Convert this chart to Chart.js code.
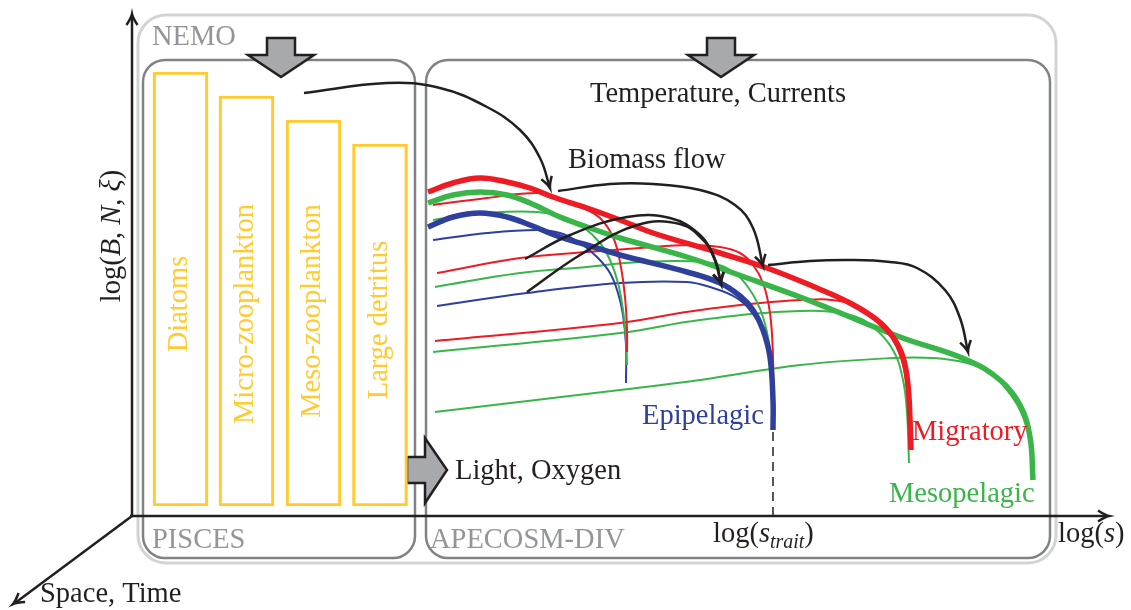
<!DOCTYPE html>
<html><head><meta charset="utf-8">
<script src="https://cdn.jsdelivr.net/npm/chart.js@4.4.1/dist/chart.umd.min.js"></script>
<style>html,body{margin:0;padding:0;background:#fff;overflow:hidden}#wrap{width:1131px;height:610px;position:relative}</style>
</head><body><div id="wrap"><canvas id="c"></canvas></div>
<script>
// ---- Diagram data (diagram units: x = log(s) position, y = log(B,N,xi) position, top-down) ----
// PISCES plankton compartments (bars)
const barLabels = ['Diatoms', 'Micro-zooplankton', 'Meso-zooplankton', 'Large detritus'];
const barCenters = [180.5, 246.5, 313.5, 380];
const barTops = [72, 96, 120, 144];
const barBase = 506;
const barLabelMid = [304, 314, 311, 320];

// APECOSM-DIV size spectra: thick = community totals
const migratoryTotal = [[428,192],[453,183],[480,178],[507,182],[530,188],[553,197],[587,208],[620,220],[653,233],[720,253],[767,268],[817,288],[850,303],[877,320],[893,337],[903,357],[908,385],[910,420],[911,450]];
const mesopelagicTotal = [[428,203],[453,195],[480,192],[507,195],[530,203],[560,217],[587,227],[620,238],[687,257],[753,280],[800,297],[833,310],[900,337],[967,360],[1000,380],[1020,405],[1030,437],[1033,480]];
const epipelagicTotal = [[428,227],[453,217],[480,213],[507,217],[530,225],[560,237],[587,245],[620,255],[687,272],[720,283],[740,296],[753,310],[763,330],[770,357],[773,400],[773,430]];
// thin = trait classes
const migratoryTrait1 = [[433,205],[487,198],[537,193],[560,198],[583,208],[600,218],[613,237],[620,262],[625,297],[627,330],[627,352]];
const mesopelagicTrait1 = [[433,220],[470,215],[503,212],[537,212],[563,217],[583,227],[600,243],[610,260],[618,283],[623,310],[626,340],[627,365]];
const epipelagicTrait1 = [[433,240],[487,233],[537,230],[560,233],[580,243],[597,257],[610,273],[618,293],[623,315],[626,345],[626,383]];
const migratoryTrait2 = [[437,273],[520,258],[587,252],[640,248],[690,245],[720,247],[740,253],[753,265],[763,283],[770,313],[773,357],[773,400]];
const mesopelagicTrait2 = [[435,287],[520,273],[587,267],[640,262],[703,262],[730,270],[750,290],[763,317],[770,350],[772,380]];
const epipelagicTrait2 = [[437,306],[527,293],[620,283],[687,282],[713,288],[735,297],[750,310],[762,330],[769,357],[772,400],[773,430]];
const migratoryTrait3 = [[435,341],[620,323],[700,310],[800,300],[850,303],[877,320],[893,340],[903,365],[908,400],[910,440]];
const mesopelagicTrait3 = [[433,352],[620,333],[700,320],[800,311],[850,315],[873,327],[893,350],[903,380],[907,413],[909,463]];
const mesopelagicTrait4 = [[435,412],[620,390],[700,380],[800,365],[893,358],[933,358],[967,363],[990,373],[1007,390],[1020,410],[1030,440],[1033,480]];

// Biomass flow arrows
const flowFromPisces = [[304,93],[387,83],[440,88],[487,107],[520,130],[540,158],[550,188]];
const flowStep1 = [[558,191],[610,184],[653,184],[700,190],[735,205],[753,228],[763,266]];
const flowStep2 = [[768,265],[810,261],[850,260],[890,262],[917,268],[945,290],[960,318],[968,352]];
const flowSmall1 = [[525,259],[570,235],[627,217],[670,218],[700,235],[714,258],[721,284]];
const flowSmall2 = [[527,292],[580,255],[637,225],[680,224],[705,242],[716,262],[721,284]];

const sTrait = 773;

const RED = '#ed1c24', GREEN = '#39b54a', BLUE = '#2e3f9c', YEL = '#ffcb2f', INK = '#231f20';
const GREY_T = '#939598', BOX = '#808285', OUTER = '#d1d3d4';
const FONT = '"Liberation Serif", "Times New Roman", serif';
const FS = 28.5;

const pts = a => a.map(([x, y]) => ({x, y}));
const curve = (a, c, w, order) => ({type:'scatter', data: pts(a), showLine:true, borderColor:c, borderWidth:w, pointRadius:0, tension:0.4, fill:false, order, borderCapStyle:'butt', borderJoinStyle:'round'});
const flowArrows = [flowFromPisces, flowStep1, flowStep2, flowSmall1, flowSmall2];

const datasets = [
  {type:'bar', data: barCenters.map((x, i) => ({x, y:[barBase, barTops[i]]})), backgroundColor:'rgba(0,0,0,0)', borderColor:YEL, borderWidth:2.5, borderSkipped:false, barThickness:55, grouped:false, order:20},
  curve(migratoryTrait1, RED, 2, 10), curve(mesopelagicTrait1, GREEN, 2, 10), curve(epipelagicTrait1, BLUE, 2, 10),
  curve(migratoryTrait2, RED, 2, 10), curve(mesopelagicTrait2, GREEN, 2, 10), curve(epipelagicTrait2, BLUE, 2, 10),
  curve(migratoryTrait3, RED, 2, 10), curve(mesopelagicTrait3, GREEN, 2, 10), curve(mesopelagicTrait4, GREEN, 2, 10),
  curve(epipelagicTotal, BLUE, 5.5, 5), curve(mesopelagicTotal, GREEN, 5.5, 4), curve(migratoryTotal, RED, 5.5, 3),
  ...flowArrows.map(a => curve(a, INK, 2.5, 1))
];

function rich(ctx, parts, x, y, align, color, size) {
  let w = 0;
  const segs = parts.map(p => {
    const s = p.sub ? size * 0.7 : size;
    const f = (p.it ? 'italic ' : '') + s + 'px ' + FONT;
    ctx.font = f; const m = ctx.measureText(p.t).width; w += m;
    return {f, m, dy: p.sub ? size * 0.2 : 0, t: p.t};
  });
  let cx = align === 'center' ? x - w / 2 : align === 'right' ? x - w : x;
  ctx.fillStyle = color; ctx.textAlign = 'left'; ctx.textBaseline = 'alphabetic';
  segs.forEach(s => { ctx.font = s.f; ctx.fillText(s.t, cx, y + s.dy); cx += s.m; });
}
function head(ctx, tx, ty, ang, len, half) {
  const dx = Math.cos(ang), dy = Math.sin(ang), px = -dy, py = dx;
  ctx.beginPath();
  ctx.moveTo(tx - len*dx + half*px, ty - len*dy + half*py);
  ctx.quadraticCurveTo(tx - 0.35*len*dx + 0.15*half*px, ty - 0.35*len*dy + 0.15*half*py, tx, ty);
  ctx.quadraticCurveTo(tx - 0.35*len*dx - 0.15*half*px, ty - 0.35*len*dy - 0.15*half*py, tx - len*dx - half*px, ty - len*dy - half*py);
  ctx.stroke();
}
function rrect(ctx, x0, y0, x1, y1, r) {
  ctx.beginPath(); ctx.roundRect(x0, y0, x1 - x0, y1 - y0, r); ctx.stroke();
}

const diagram = {
  id: 'diagram',
  beforeDatasetsDraw(chart) {
    const {ctx, scales:{x, y}} = chart;
    const X = v => x.getPixelForValue(v), Y = v => y.getPixelForValue(v);
    ctx.save();
    ctx.lineWidth = 3; ctx.strokeStyle = OUTER; rrect(ctx, X(138), Y(15), X(1056), Y(563), 28);
    ctx.lineWidth = 2.5; ctx.strokeStyle = BOX;
    rrect(ctx, X(143), Y(60), X(415), Y(558), 22);
    rrect(ctx, X(426), Y(60), X(1050), Y(558), 22);
    // axes
    ctx.strokeStyle = INK; ctx.lineWidth = 2.5; ctx.lineCap = 'butt';
    ctx.beginPath(); ctx.moveTo(X(132), Y(517)); ctx.lineTo(X(132), Y(16)); ctx.stroke();
    head(ctx, X(132), Y(14), -Math.PI/2, 11, 5.5);
    ctx.beginPath(); ctx.moveTo(X(130), Y(516)); ctx.lineTo(X(1106), Y(516)); ctx.stroke();
    head(ctx, X(1109), Y(516), 0, 11, 5.5);
    const ang = Math.atan2(604 - 516, 13 - 132);
    ctx.beginPath(); ctx.moveTo(X(132), Y(516)); ctx.lineTo(X(15), Y(603)); ctx.stroke();
    head(ctx, X(13), Y(604), ang, 11, 5.5);
    ctx.setLineDash([9, 6]); ctx.lineWidth = 1.5;
    ctx.beginPath(); ctx.moveTo(X(sTrait), Y(432)); ctx.lineTo(X(sTrait), Y(516)); ctx.stroke();
    ctx.setLineDash([]);
    // block arrows
    ctx.fillStyle = '#a7a9ac'; ctx.strokeStyle = INK; ctx.lineWidth = 2.5; ctx.lineJoin = 'miter';
    [281, 721].forEach(cx => {
      ctx.beginPath();
      ctx.moveTo(X(cx-14), Y(38)); ctx.lineTo(X(cx+14), Y(38)); ctx.lineTo(X(cx+14), Y(55));
      ctx.lineTo(X(cx+33), Y(55)); ctx.lineTo(X(cx), Y(77)); ctx.lineTo(X(cx-33), Y(55));
      ctx.lineTo(X(cx-14), Y(55)); ctx.closePath(); ctx.fill(); ctx.stroke();
    });
    ctx.beginPath();
    ctx.moveTo(X(407), Y(457)); ctx.lineTo(X(425), Y(457)); ctx.lineTo(X(425), Y(438));
    ctx.lineTo(X(447), Y(470)); ctx.lineTo(X(425), Y(503)); ctx.lineTo(X(425), Y(483));
    ctx.lineTo(X(407), Y(483)); ctx.closePath(); ctx.fill(); ctx.stroke();
    // box labels
    rich(ctx, [{t:'NEMO'}], X(152), Y(45), 'left', GREY_T, FS);
    rich(ctx, [{t:'PISCES'}], X(152), Y(548), 'left', GREY_T, FS);
    rich(ctx, [{t:'APECOSM-DIV'}], X(430), Y(548), 'left', GREY_T, FS);
    ctx.restore();
  },
  afterDatasetsDraw(chart) {
    const {ctx, scales:{x, y}} = chart;
    const X = v => x.getPixelForValue(v), Y = v => y.getPixelForValue(v);
    ctx.save();
    ctx.strokeStyle = INK; ctx.lineWidth = 2.5;
    flowArrows.forEach(a => {
      const [p, q] = [a[a.length - 2], a[a.length - 1]];
      head(ctx, X(q[0]), Y(q[1]), Math.atan2(Y(q[1]) - Y(p[1]), X(q[0]) - X(p[0])), 11, 5.5);
    });
    // bar labels (rotated)
    barLabels.forEach((t, i) => {
      ctx.save(); ctx.translate(X(barCenters[i] + 6.5), Y(barLabelMid[i])); ctx.rotate(-Math.PI/2);
      rich(ctx, [{t}], 0, 0, 'center', YEL, FS); ctx.restore();
    });
    rich(ctx, [{t:'Temperature, Currents'}], X(590), Y(102), 'left', INK, FS);
    rich(ctx, [{t:'Biomass flow'}], X(568), Y(168), 'left', INK, FS);
    rich(ctx, [{t:'Light, Oxygen'}], X(455), Y(479), 'left', INK, FS);
    rich(ctx, [{t:'Epipelagic'}], X(642), Y(424), 'left', BLUE, FS);
    rich(ctx, [{t:'Migratory'}], X(912), Y(440), 'left', RED, FS);
    rich(ctx, [{t:'Mesopelagic'}], X(889), Y(502), 'left', GREEN, FS);
    rich(ctx, [{t:'log('}, {t:'s', it:true}, {t:'trait', it:true, sub:true}, {t:')'}], X(713), Y(542), 'left', INK, FS);
    rich(ctx, [{t:'log('}, {t:'s', it:true}, {t:')'}], X(1058), Y(542), 'left', INK, FS);
    rich(ctx, [{t:'Space, Time'}], X(40), Y(602), 'left', INK, FS);
    ctx.save(); ctx.translate(X(120), Y(236)); ctx.rotate(-Math.PI/2);
    rich(ctx, [{t:'log('}, {t:'B', it:true}, {t:', '}, {t:'N', it:true}, {t:', '}, {t:'ξ', it:true}, {t:')'}], 0, 0, 'center', INK, FS);
    ctx.restore();
    ctx.restore();
  }
};

new Chart(document.getElementById('c'), {
  type: 'scatter',
  data: {datasets},
  options: {
    responsive: true, maintainAspectRatio: false, animation: false,
    layout: {padding: 0},
    plugins: {legend: {display: false}, tooltip: {enabled: false}},
    scales: {
      x: {type:'linear', min:0, max:1131, display:false, offset:false, bounds:'data'},
      y: {type:'linear', min:0, max:610, reverse:true, display:false, offset:false}
    }
  },
  plugins: [diagram]
});
</script>
</body></html>
